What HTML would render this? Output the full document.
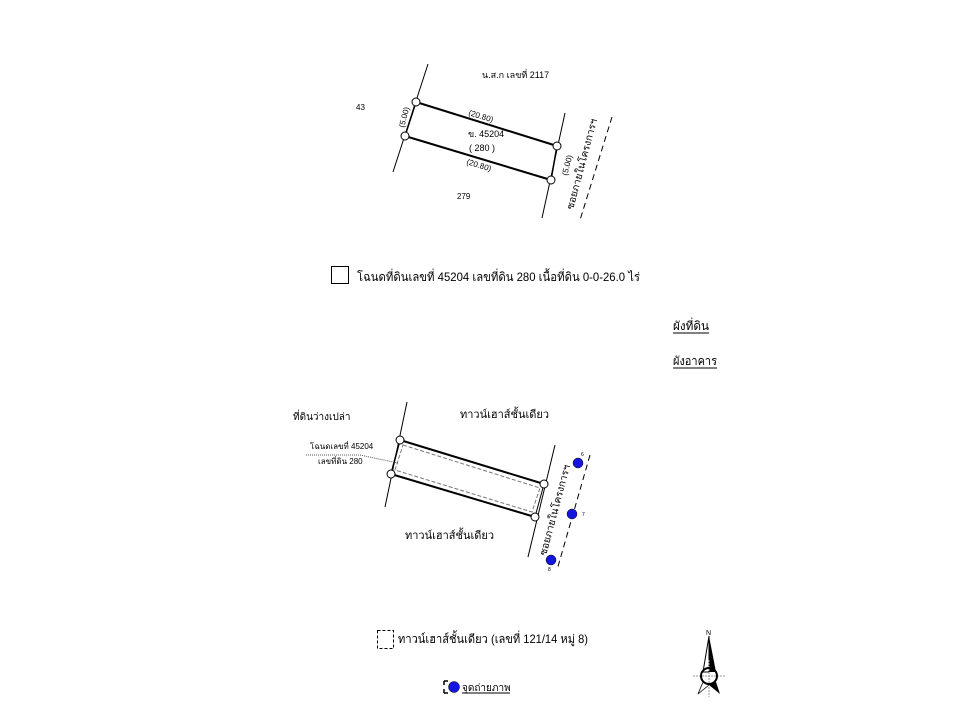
<!DOCTYPE html>
<html><head><meta charset="utf-8"><style>
body{margin:0;background:#fff;width:960px;height:720px;overflow:hidden}
svg{display:block}
text{font-family:"Liberation Sans",sans-serif;fill:#000}
</style></head><body>
<svg width="960" height="720" viewBox="0 0 960 720">
<g stroke="#000" fill="none">
<line x1="428" y1="64" x2="393" y2="172" stroke-width="1"/>
<line x1="565" y1="113" x2="542" y2="218" stroke-width="1"/>
<line x1="612" y1="117" x2="580" y2="220" stroke-width="1" stroke-dasharray="6,4"/>
<line x1="416" y1="102" x2="557" y2="146" stroke-width="2"/>
<line x1="405" y1="136" x2="551" y2="180" stroke-width="2"/>
<line x1="416" y1="102" x2="405" y2="136" stroke-width="1.5"/>
<line x1="557" y1="146" x2="551" y2="180" stroke-width="1.5"/>
</g>
<g fill="#fff" stroke="#000" stroke-width="1"><circle cx="416" cy="102" r="4"/><circle cx="405" cy="136" r="4"/><circle cx="557" cy="146" r="4"/><circle cx="551" cy="180" r="4"/></g>
<text x="482" y="78" font-size="9">น.ส.ก เลขที่ 2117</text>
<text x="356" y="110" font-size="8">43</text>
<text x="0" y="0" font-size="8" transform="translate(468,115) rotate(17)">(20.80)</text>
<text x="468" y="137" font-size="9">ข. 45204</text>
<text x="469" y="151" font-size="9">( 280 )</text>
<text x="0" y="0" font-size="8" transform="translate(466,164) rotate(17)">(20.80)</text>
<text x="457" y="199" font-size="8">279</text>
<text x="0" y="0" font-size="8" transform="translate(404,128) rotate(-75)">(5.00)</text>
<text x="0" y="0" font-size="8" transform="translate(567,176) rotate(-75)">(5.00)</text>
<text x="0" y="0" font-size="10" transform="translate(573,210) rotate(-75)">ซอยภายในโครงการฯ</text>
<rect x="331.5" y="266.5" width="17" height="17" fill="none" stroke="#000"/>
<text x="357" y="281" font-size="12" textLength="283" lengthAdjust="spacingAndGlyphs">โฉนดที่ดินเลขที่ 45204 เลขที่ดิน 280 เนื้อที่ดิน 0-0-26.0 ไร่</text>
<text x="673" y="330" font-size="12" textLength="36" lengthAdjust="spacingAndGlyphs">ผังที่ดิน</text>
<line x1="673" y1="333" x2="709" y2="333" stroke="#000"/>
<text x="673" y="365" font-size="12" textLength="44" lengthAdjust="spacingAndGlyphs">ผังอาคาร</text>
<line x1="673" y1="368" x2="717" y2="368" stroke="#000"/>
<g stroke="#000" fill="none">
<line x1="407" y1="402" x2="385" y2="507" stroke-width="1"/>
<line x1="555" y1="445" x2="528" y2="557" stroke-width="1"/>
<line x1="590" y1="455" x2="557" y2="570" stroke-width="1" stroke-dasharray="6,4"/>
<line x1="400" y1="440" x2="544" y2="484" stroke-width="2"/>
<line x1="391" y1="474" x2="535" y2="517" stroke-width="2"/>
<line x1="400" y1="440" x2="391" y2="474" stroke-width="1.5"/>
<line x1="544" y1="484" x2="535" y2="517" stroke-width="1"/>
<polygon points="403,445 540,488 532,512 395,470" stroke="#777" stroke-dasharray="4,2"/>
<line x1="306" y1="455" x2="360" y2="455" stroke="#555" stroke-dasharray="1,1"/>
<line x1="360" y1="455" x2="398" y2="463" stroke="#555" stroke-dasharray="1,1"/>
</g>
<g fill="#fff" stroke="#000" stroke-width="1"><circle cx="400" cy="440" r="4"/><circle cx="391" cy="474" r="4"/><circle cx="544" cy="484" r="4"/><circle cx="535" cy="517" r="4"/></g>
<text x="293" y="420" font-size="10">ที่ดินว่างเปล่า</text>
<text x="460" y="418" font-size="11">ทาวน์เฮาส์ชั้นเดียว</text>
<text x="310" y="449" font-size="8">โฉนดเลขที่ 45204</text>
<text x="318" y="464" font-size="8">เลขที่ดิน 280</text>
<text x="405" y="539" font-size="11">ทาวน์เฮาส์ชั้นเดียว</text>
<text x="0" y="0" font-size="10" transform="translate(546,556) rotate(-75)">ซอยภายในโครงการฯ</text>
<g fill="#1515e0" stroke="#000" stroke-width="0.5"><circle cx="578" cy="463" r="5"/><circle cx="572" cy="514" r="5"/><circle cx="551" cy="560" r="5"/></g>
<text x="581" y="456" font-size="5">6</text><text x="582" y="516" font-size="5">7</text><text x="548" y="571" font-size="5">8</text>
<rect x="377.5" y="630.5" width="16" height="18" fill="none" stroke="#000" stroke-dasharray="3,2"/>
<text x="398" y="643" font-size="12" textLength="190" lengthAdjust="spacingAndGlyphs">ทาวน์เฮาส์ชั้นเดียว (เลขที่ 121/14 หมู่ 8)</text>
<circle cx="454" cy="687" r="5.5" fill="#1515e0" stroke="#000" stroke-width="0.5"/>
<path d="M444,681 l4,0 M444,681 l0,4 M444,693 l4,0 M444,693 l0,-4" stroke="#000" stroke-width="1.5"/>
<text x="462" y="691" font-size="10">จุดถ่ายภาพ</text>
<line x1="462" y1="693" x2="510" y2="693" stroke="#000"/>
<text x="706" y="635" font-size="7" font-family="Liberation Serif">N</text>
<polygon points="709,636 703,672 709,672" fill="#fff" stroke="#000"/>
<polygon points="709,636 716,672 709,672" fill="#000"/>
<polygon points="703,682 698,694 709,685" fill="#fff" stroke="#000" stroke-width="0.8"/>
<polygon points="716,682 720,694 709,685" fill="#000"/>
<line x1="693" y1="676" x2="725" y2="676" stroke="#999" stroke-dasharray="2,1"/>
<line x1="709" y1="660" x2="709" y2="697" stroke="#999" stroke-dasharray="2,1"/>
<circle cx="709" cy="676" r="8" fill="none" stroke="#000" stroke-width="2"/>
</svg>
</body></html>
